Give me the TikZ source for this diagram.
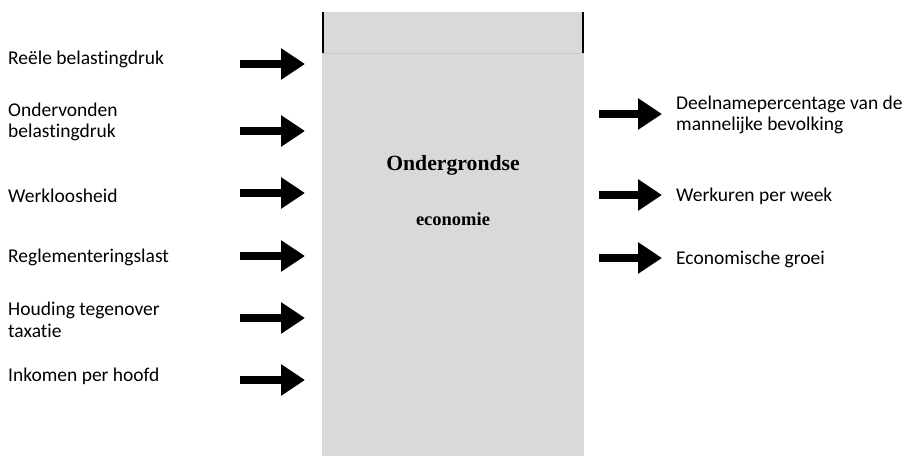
\documentclass[tikz,border=0pt]{standalone}
\usepackage{fontspec}
\setmainfont{Liberation Serif}
\newfontfamily\labelfont[Ligatures=NoCommon]{Carlito}
\usetikzlibrary{arrows.meta}
\definecolor{boxfill}{RGB}{217,217,217}
\definecolor{boxline}{RGB}{200,200,200}

\tikzset{
  lbl/.style={anchor=west,align=left,inner sep=0pt,font=\labelfont\fontsize{19.5}{21.5}\selectfont},
  bigarrow/.style={line width=7.5pt,-{Triangle[length=24pt,width=30pt]}}
}

\begin{document}
\begin{tikzpicture}[x=1pt,y=-1pt]
  \useasboundingbox (0,0) rectangle (905,458);

  % --- the central box ---
  \fill[boxfill] (322,12) rectangle (584,456);
  \draw[boxline,thin] (322,53) -- (584,53);
  \draw[line width=1.6pt] (323,12) -- (323,53);
  \draw[line width=1.6pt] (583,12) -- (583,53);
  \node[font=\bfseries\fontsize{21.7}{24}\selectfont] (title) at (453,165) {Ondergrondse};
  \node[font=\bfseries\fontsize{18.5}{20}\selectfont] (sub) at (453,219) {economie};

  % --- causes (left) ---
  \node[lbl] (c1) at (8,59) {Reële belastingdruk};
  \node[lbl] (c2) at (8,122) {Ondervonden\\belastingdruk};
  \node[lbl] (c3) at (8,196) {Werkloosheid};
  \node[lbl] (c4) at (8,257) {Reglementeringslast};
  \node[lbl] (c5) at (8,320) {Houding tegenover\\taxatie};
  \node[lbl] (c6) at (8,376) {Inkomen per hoofd};

  \foreach \i/\y in {1/64,2/131,3/193,4/256,5/318,6/380}{
    \coordinate (ls\i) at (240,\y);
    \coordinate (le\i) at (305,\y);
    \draw[bigarrow] (ls\i) -- (le\i);
  }

  % --- indicators (right) ---
  \node[lbl] (e1) at (676,115) {Deelnamepercentage van de\\mannelijke bevolking};
  \node[lbl] (e2) at (676,196) {Werkuren per week};
  \node[lbl] (e3) at (676,259) {Economische groei};

  \foreach \i/\y in {1/114,2/195,3/258}{
    \coordinate (rs\i) at (599,\y);
    \coordinate (re\i) at (662,\y);
    \draw[bigarrow] (rs\i) -- (re\i);
  }
\end{tikzpicture}
\end{document}
